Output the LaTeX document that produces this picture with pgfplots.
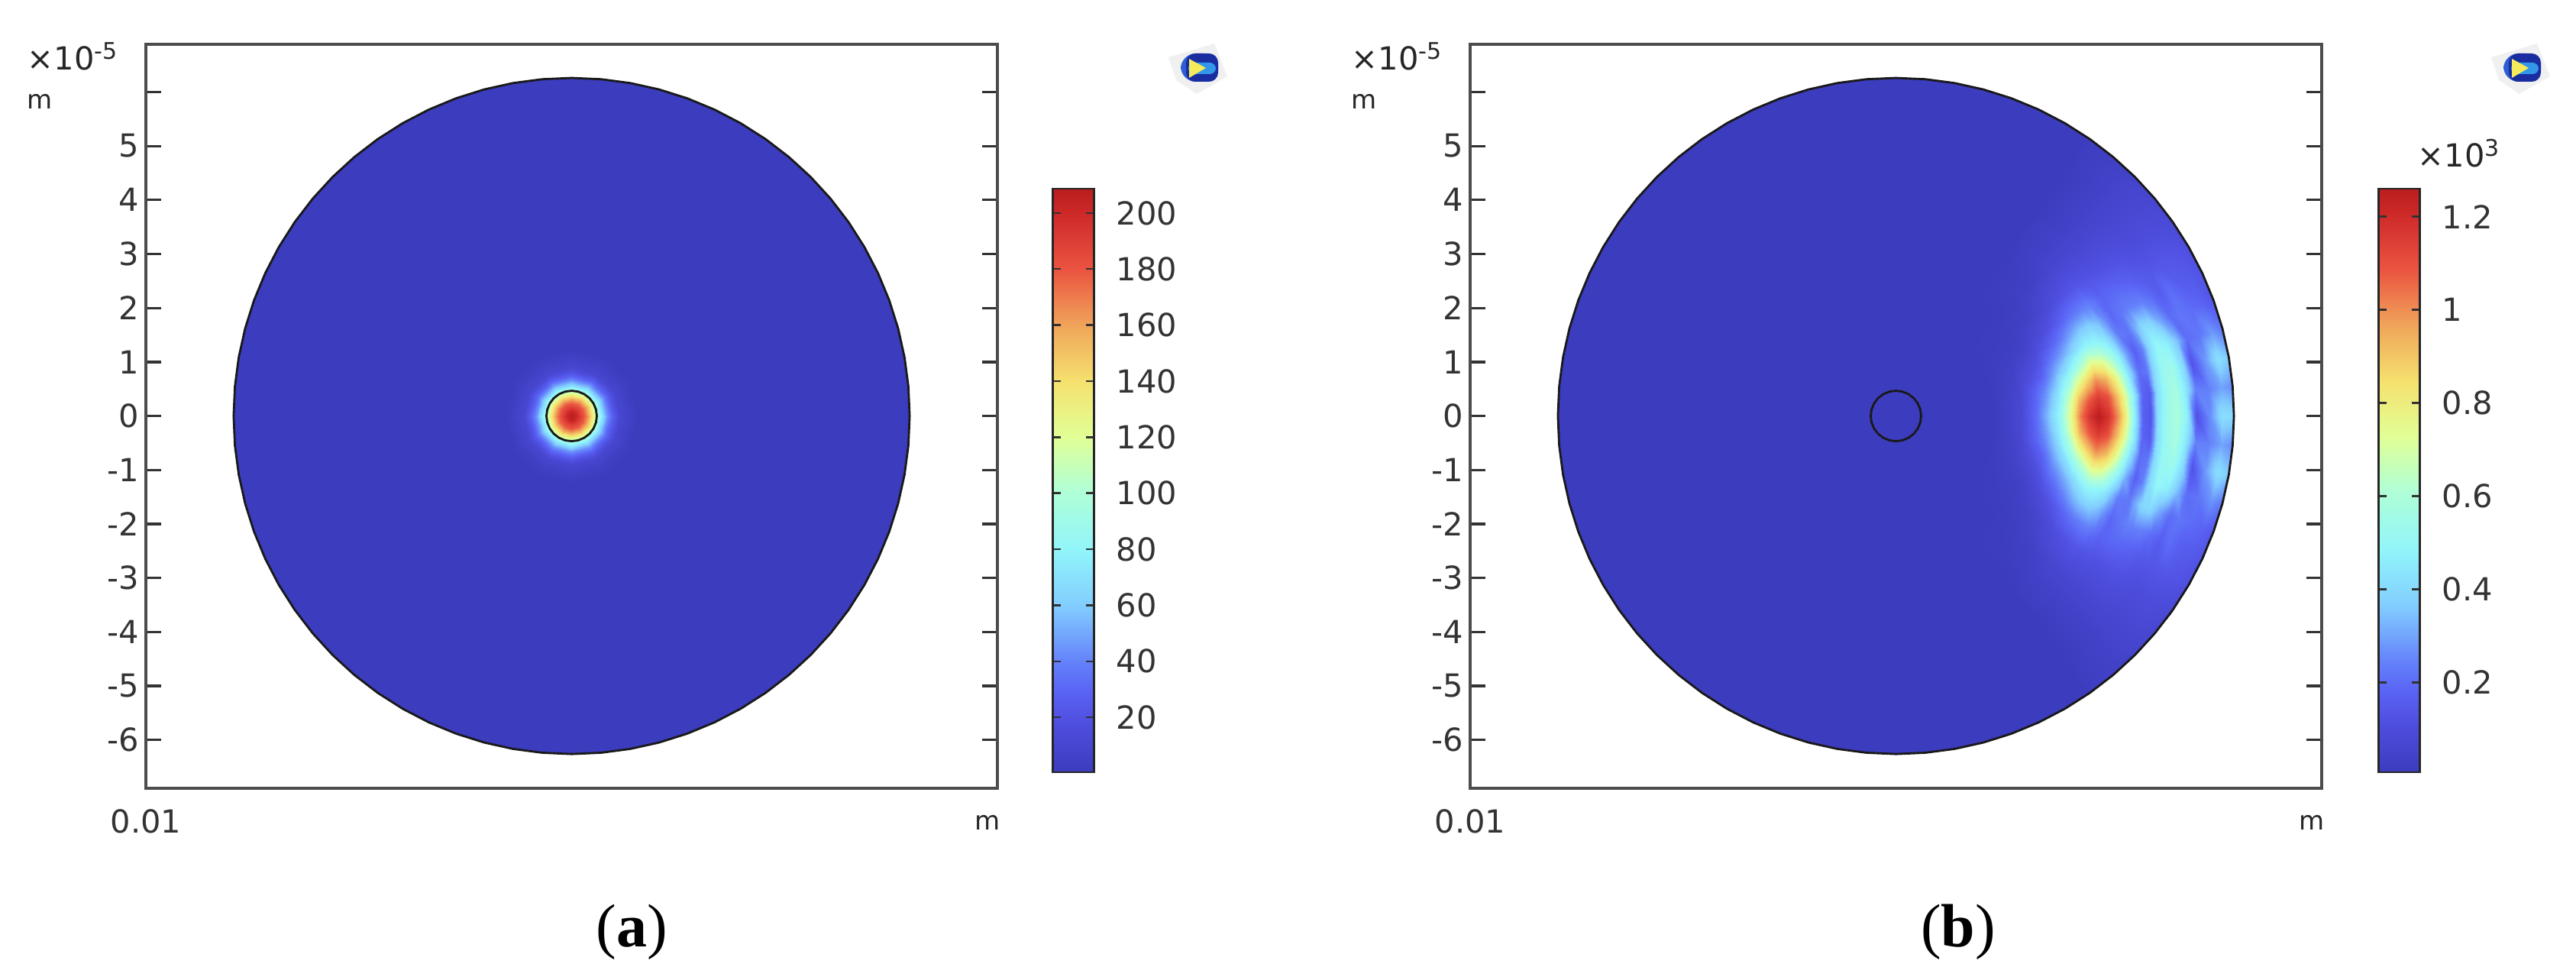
\documentclass[border=0pt]{standalone}
\usepackage{pgfplots}
\usepackage{pgfplotstable}
\pgfplotsset{compat=1.18}
\usepackage{fontspec}
\setmainfont{DejaVu Sans}
\newfontfamily\capfont{Liberation Serif}
\definecolor{basecol}{RGB}{60,60,190}
\definecolor{frame}{gray}{0.3}
\pgfplotsset{
 colormap={comsol}{rgb255(0)=(60,60,190); rgb255(9)=(80,80,225); rgb255(14)=(90,100,245); rgb255(19)=(100,130,250); rgb255(28.5)=(130,205,255); rgb255(38)=(145,245,250); rgb255(48)=(175,255,215); rgb255(57.5)=(225,255,150); rgb255(67)=(245,225,110); rgb255(76.5)=(240,165,90); rgb255(86)=(235,85,65); rgb255(96)=(205,40,40); rgb255(100)=(185,30,30)},
 panel/.style={
  scale only axis, width=278.75pt, height=243.5pt,
  xmin=-7.885, xmax=7.885, ymin=-6.894, ymax=6.883,
  axis line style={frame, line width=0.8pt},
  ytick={-6,-5,-4,-3,-2,-1,0,1,2,3,4,5,6},
  yticklabels={-6,-5,-4,-3,-2,-1,0,1,2,3,4,5,{}},
  ytick pos=both, yticklabel pos=left, tick align=inside,
  major tick length=5pt,
  y tick style={black!80, line width=0.8pt},
  xtick={-7.885}, xticklabels={0.01},
  x tick style={draw=none},
  xticklabel style={yshift=-3.5pt},
  ticklabel style={font=\fontsize{10.4}{13}\selectfont, text=black!80},
  yticklabel style={xshift=1.2pt},
  colormap name=comsol,
  colorbar,
 },
 barst/.style={
  at={(parent axis.south east)}, anchor=south west, yshift=5.25pt,
  width=13.6pt, height=191pt,
  tick align=inside, ytick pos=both, yticklabel pos=right,
  major tick length=2.7pt,
  axis line style={black!85, line width=0.7pt},
  y tick style={black!80, line width=0.6pt},
  yticklabel style={font=\fontsize{10.4}{13}\selectfont, text=black!80, xshift=3.8pt},
 },
 disk/.style={fill=basecol, draw=none, forget plot},
 ring/.style={draw=black!90, line width=0.7pt, no markers, forget plot},
 field/.style={surf, shader=interp, point meta=explicit, draw=none, forget plot},
 /pgfplots/table/polar in/.style={/pgfplots/table/x expr=\thisrow{r}*cos(\thisrow{t}), /pgfplots/table/y expr=\thisrow{r}*sin(\thisrow{t})},
}
\pgfplotstableread[row sep=\\]{r t\\6.26 0\\6.26 5\\6.26 10\\6.26 15\\6.26 20\\6.26 25\\6.26 30\\6.26 35\\6.26 40\\6.26 45\\6.26 50\\6.26 55\\6.26 60\\6.26 65\\6.26 70\\6.26 75\\6.26 80\\6.26 85\\6.26 90\\6.26 95\\6.26 100\\6.26 105\\6.26 110\\6.26 115\\6.26 120\\6.26 125\\6.26 130\\6.26 135\\6.26 140\\6.26 145\\6.26 150\\6.26 155\\6.26 160\\6.26 165\\6.26 170\\6.26 175\\6.26 180\\6.26 185\\6.26 190\\6.26 195\\6.26 200\\6.26 205\\6.26 210\\6.26 215\\6.26 220\\6.26 225\\6.26 230\\6.26 235\\6.26 240\\6.26 245\\6.26 250\\6.26 255\\6.26 260\\6.26 265\\6.26 270\\6.26 275\\6.26 280\\6.26 285\\6.26 290\\6.26 295\\6.26 300\\6.26 305\\6.26 310\\6.26 315\\6.26 320\\6.26 325\\6.26 330\\6.26 335\\6.26 340\\6.26 345\\6.26 350\\6.26 355\\6.26 360\\}\rimtab
\pgfplotstableread[row sep=\\]{r t\\0.467 0\\0.467 15\\0.467 30\\0.467 45\\0.467 60\\0.467 75\\0.467 90\\0.467 105\\0.467 120\\0.467 135\\0.467 150\\0.467 165\\0.467 180\\0.467 195\\0.467 210\\0.467 225\\0.467 240\\0.467 255\\0.467 270\\0.467 285\\0.467 300\\0.467 315\\0.467 330\\0.467 345\\0.467 360\\}\hubtab
\pgfplotstableread[row sep=\\]{r t v\\
0 0 208\\0 30 208\\0 60 208\\0 90 208\\0 120 208\\0 150 208\\0 180 208\\0 210 208\\0 240 208\\0 270 208\\0 300 208\\0 330 208\\0 360 208\\
0.08 0 203\\0.08 30 203\\0.08 60 203\\0.08 90 203\\0.08 120 203\\0.08 150 203\\0.08 180 203\\0.08 210 203\\0.08 240 203\\0.08 270 203\\0.08 300 203\\0.08 330 203\\0.08 360 203\\
0.16 0 190\\0.16 30 190\\0.16 60 190\\0.16 90 190\\0.16 120 190\\0.16 150 190\\0.16 180 190\\0.16 210 190\\0.16 240 190\\0.16 270 190\\0.16 300 190\\0.16 330 190\\0.16 360 190\\
0.24 0 178\\0.24 30 178\\0.24 60 178\\0.24 90 178\\0.24 120 178\\0.24 150 178\\0.24 180 178\\0.24 210 178\\0.24 240 178\\0.24 270 178\\0.24 300 178\\0.24 330 178\\0.24 360 178\\
0.30 0 162\\0.30 30 162\\0.30 60 162\\0.30 90 162\\0.30 120 162\\0.30 150 162\\0.30 180 162\\0.30 210 162\\0.30 240 162\\0.30 270 162\\0.30 300 162\\0.30 330 162\\0.30 360 162\\
0.35 0 147\\0.35 30 147\\0.35 60 147\\0.35 90 147\\0.35 120 147\\0.35 150 147\\0.35 180 147\\0.35 210 147\\0.35 240 147\\0.35 270 147\\0.35 300 147\\0.35 330 147\\0.35 360 147\\
0.40 0 130\\0.40 30 130\\0.40 60 130\\0.40 90 130\\0.40 120 130\\0.40 150 130\\0.40 180 130\\0.40 210 130\\0.40 240 130\\0.40 270 130\\0.40 300 130\\0.40 330 130\\0.40 360 130\\
0.46 0 108\\0.46 30 108\\0.46 60 108\\0.46 90 108\\0.46 120 108\\0.46 150 108\\0.46 180 108\\0.46 210 108\\0.46 240 108\\0.46 270 108\\0.46 300 108\\0.46 330 108\\0.46 360 108\\
0.52 0 85\\0.52 30 85\\0.52 60 85\\0.52 90 85\\0.52 120 85\\0.52 150 85\\0.52 180 85\\0.52 210 85\\0.52 240 85\\0.52 270 85\\0.52 300 85\\0.52 330 85\\0.52 360 85\\
0.58 0 65\\0.58 30 65\\0.58 60 65\\0.58 90 65\\0.58 120 65\\0.58 150 65\\0.58 180 65\\0.58 210 65\\0.58 240 65\\0.58 270 65\\0.58 300 65\\0.58 330 65\\0.58 360 65\\
0.66 0 45\\0.66 30 45\\0.66 60 45\\0.66 90 45\\0.66 120 45\\0.66 150 45\\0.66 180 45\\0.66 210 45\\0.66 240 45\\0.66 270 45\\0.66 300 45\\0.66 330 45\\0.66 360 45\\
0.75 0 28\\0.75 30 28\\0.75 60 28\\0.75 90 28\\0.75 120 28\\0.75 150 28\\0.75 180 28\\0.75 210 28\\0.75 240 28\\0.75 270 28\\0.75 300 28\\0.75 330 28\\0.75 360 28\\
0.9 0 10\\0.9 30 10\\0.9 60 10\\0.9 90 10\\0.9 120 10\\0.9 150 10\\0.9 180 10\\0.9 210 10\\0.9 240 10\\0.9 270 10\\0.9 300 10\\0.9 330 10\\0.9 360 10\\
1.25 0 0.4\\1.25 30 0.4\\1.25 60 0.4\\1.25 90 0.4\\1.25 120 0.4\\1.25 150 0.4\\1.25 180 0.4\\1.25 210 0.4\\1.25 240 0.4\\1.25 270 0.4\\1.25 300 0.4\\1.25 330 0.4\\1.25 360 0.4\\
}\fieldA
\pgfplotstableread[row sep=\\]{r t v\\
1.8 -55 0.007\\1.8 -44 0.007\\1.8 -36 0.007\\1.8 -30 0.007\\1.8 -25 0.007\\1.8 -20 0.007\\1.8 -15 0.007\\1.8 -10 0.007\\1.8 -5 0.007\\1.8 0 0.007\\1.8 5 0.007\\1.8 10 0.007\\1.8 15 0.007\\1.8 20 0.007\\1.8 25 0.007\\1.8 30 0.007\\1.8 36 0.007\\1.8 44 0.007\\1.8 55 0.007\\
2.3 -55 0.007\\2.3 -44 0.01\\2.3 -36 0.015\\2.3 -30 0.02\\2.3 -25 0.03\\2.3 -20 0.04\\2.3 -15 0.05\\2.3 -10 0.06\\2.3 -5 0.07\\2.3 0 0.07\\2.3 5 0.07\\2.3 10 0.06\\2.3 15 0.05\\2.3 20 0.04\\2.3 25 0.03\\2.3 30 0.02\\2.3 36 0.015\\2.3 44 0.01\\2.3 55 0.007\\
2.6 -55 0.007\\2.6 -44 0.01\\2.6 -36 0.02\\2.6 -30 0.03\\2.6 -25 0.05\\2.6 -20 0.08\\2.6 -15 0.12\\2.6 -10 0.17\\2.6 -5 0.19\\2.6 0 0.20\\2.6 5 0.19\\2.6 10 0.17\\2.6 15 0.12\\2.6 20 0.08\\2.6 25 0.05\\2.6 30 0.03\\2.6 36 0.02\\2.6 44 0.01\\2.6 55 0.007\\
2.8 -55 0.01\\2.8 -44 0.015\\2.8 -36 0.03\\2.8 -30 0.05\\2.8 -25 0.08\\2.8 -20 0.13\\2.8 -15 0.18\\2.8 -10 0.25\\2.8 -5 0.30\\2.8 0 0.33\\2.8 5 0.30\\2.8 10 0.25\\2.8 15 0.18\\2.8 20 0.13\\2.8 25 0.08\\2.8 30 0.05\\2.8 36 0.03\\2.8 44 0.015\\2.8 55 0.01\\
3.03 -55 0.01\\3.03 -44 0.02\\3.03 -36 0.04\\3.03 -30 0.08\\3.03 -25 0.14\\3.03 -20 0.22\\3.03 -15 0.30\\3.03 -10 0.38\\3.03 -5 0.46\\3.03 0 0.50\\3.03 5 0.46\\3.03 10 0.38\\3.03 15 0.30\\3.03 20 0.22\\3.03 25 0.14\\3.03 30 0.08\\3.03 36 0.04\\3.03 44 0.02\\3.03 55 0.01\\
3.26 -55 0.01\\3.26 -44 0.03\\3.26 -36 0.06\\3.26 -30 0.12\\3.26 -25 0.20\\3.26 -20 0.30\\3.26 -15 0.42\\3.26 -10 0.58\\3.26 -5 0.72\\3.26 0 0.78\\3.26 5 0.72\\3.26 10 0.58\\3.26 15 0.42\\3.26 20 0.30\\3.26 25 0.20\\3.26 30 0.12\\3.26 36 0.06\\3.26 44 0.03\\3.26 55 0.01\\
3.41 -55 0.01\\3.41 -44 0.03\\3.41 -36 0.08\\3.41 -30 0.15\\3.41 -25 0.25\\3.41 -20 0.36\\3.41 -15 0.52\\3.41 -10 0.74\\3.41 -5 0.94\\3.41 0 1.03\\3.41 5 0.94\\3.41 10 0.74\\3.41 15 0.52\\3.41 20 0.36\\3.41 25 0.25\\3.41 30 0.15\\3.41 36 0.08\\3.41 44 0.03\\3.41 55 0.01\\
3.58 -55 0.01\\3.58 -44 0.04\\3.58 -36 0.10\\3.58 -30 0.19\\3.58 -25 0.31\\3.58 -20 0.44\\3.58 -15 0.64\\3.58 -10 0.88\\3.58 -5 1.08\\3.58 0 1.18\\3.58 5 1.08\\3.58 10 0.88\\3.58 15 0.64\\3.58 20 0.44\\3.58 25 0.31\\3.58 30 0.19\\3.58 36 0.10\\3.58 44 0.04\\3.58 55 0.01\\
3.76 -55 0.01\\3.76 -44 0.05\\3.76 -36 0.12\\3.76 -30 0.22\\3.76 -25 0.36\\3.76 -20 0.50\\3.76 -15 0.76\\3.76 -10 1.00\\3.76 -5 1.16\\3.76 0 1.26\\3.76 5 1.16\\3.76 10 1.00\\3.76 15 0.76\\3.76 20 0.50\\3.76 25 0.36\\3.76 30 0.22\\3.76 36 0.12\\3.76 44 0.05\\3.76 55 0.01\\
3.94 -55 0.015\\3.94 -44 0.06\\3.94 -36 0.13\\3.94 -30 0.24\\3.94 -25 0.38\\3.94 -20 0.50\\3.94 -15 0.72\\3.94 -10 0.94\\3.94 -5 1.10\\3.94 0 1.18\\3.94 5 1.10\\3.94 10 0.94\\3.94 15 0.72\\3.94 20 0.50\\3.94 25 0.38\\3.94 30 0.24\\3.94 36 0.13\\3.94 44 0.06\\3.94 55 0.015\\
4.11 -55 0.015\\4.11 -44 0.06\\4.11 -36 0.14\\4.11 -30 0.24\\4.11 -25 0.34\\4.11 -20 0.44\\4.11 -15 0.60\\4.11 -10 0.78\\4.11 -5 0.92\\4.11 0 1.00\\4.11 5 0.92\\4.11 10 0.78\\4.11 15 0.60\\4.11 20 0.44\\4.11 25 0.34\\4.11 30 0.24\\4.11 36 0.14\\4.11 44 0.06\\4.11 55 0.015\\
4.25 -55 0.015\\4.25 -44 0.06\\4.25 -36 0.13\\4.25 -30 0.21\\4.25 -25 0.26\\4.25 -20 0.34\\4.25 -15 0.48\\4.25 -10 0.62\\4.25 -5 0.74\\4.25 0 0.80\\4.25 5 0.74\\4.25 10 0.62\\4.25 15 0.48\\4.25 20 0.34\\4.25 25 0.26\\4.25 30 0.21\\4.25 36 0.13\\4.25 44 0.06\\4.25 55 0.015\\
4.39 -55 0.015\\4.39 -44 0.06\\4.39 -36 0.13\\4.39 -30 0.18\\4.39 -25 0.19\\4.39 -20 0.23\\4.39 -15 0.32\\4.39 -10 0.42\\4.39 -5 0.50\\4.39 0 0.52\\4.39 5 0.50\\4.39 10 0.42\\4.39 15 0.32\\4.39 20 0.23\\4.39 25 0.19\\4.39 30 0.18\\4.39 36 0.13\\4.39 44 0.06\\4.39 55 0.015\\
4.58 -55 0.01\\4.58 -44 0.06\\4.58 -36 0.12\\4.58 -30 0.19\\4.58 -25 0.22\\4.58 -20 0.22\\4.58 -15 0.17\\4.58 -10 0.20\\4.58 -5 0.18\\4.58 0 0.17\\4.58 5 0.18\\4.58 10 0.20\\4.58 15 0.17\\4.58 20 0.22\\4.58 25 0.22\\4.58 30 0.19\\4.58 36 0.12\\4.58 44 0.06\\4.58 55 0.01\\
4.72 -55 0.01\\4.72 -44 0.06\\4.72 -36 0.12\\4.72 -30 0.19\\4.72 -25 0.24\\4.72 -20 0.32\\4.72 -15 0.24\\4.72 -10 0.22\\4.72 -5 0.15\\4.72 0 0.14\\4.72 5 0.15\\4.72 10 0.22\\4.72 15 0.24\\4.72 20 0.32\\4.72 25 0.24\\4.72 30 0.19\\4.72 36 0.12\\4.72 44 0.06\\4.72 55 0.01\\
4.85 -55 0.01\\4.85 -44 0.06\\4.85 -36 0.12\\4.85 -30 0.18\\4.85 -25 0.24\\4.85 -20 0.40\\4.85 -15 0.40\\4.85 -10 0.40\\4.85 -5 0.40\\4.85 0 0.42\\4.85 5 0.40\\4.85 10 0.40\\4.85 15 0.40\\4.85 20 0.40\\4.85 25 0.24\\4.85 30 0.18\\4.85 36 0.12\\4.85 44 0.06\\4.85 55 0.01\\
5.0 -55 0.01\\5.0 -44 0.06\\5.0 -36 0.12\\5.0 -30 0.17\\5.0 -25 0.24\\5.0 -20 0.40\\5.0 -15 0.50\\5.0 -10 0.52\\5.0 -5 0.52\\5.0 0 0.52\\5.0 5 0.52\\5.0 10 0.52\\5.0 15 0.50\\5.0 20 0.40\\5.0 25 0.24\\5.0 30 0.17\\5.0 36 0.12\\5.0 44 0.06\\5.0 55 0.01\\
5.2 -55 0.01\\5.2 -44 0.06\\5.2 -36 0.11\\5.2 -30 0.15\\5.2 -25 0.20\\5.2 -20 0.30\\5.2 -15 0.46\\5.2 -10 0.54\\5.2 -5 0.58\\5.2 0 0.60\\5.2 5 0.58\\5.2 10 0.54\\5.2 15 0.46\\5.2 20 0.30\\5.2 25 0.20\\5.2 30 0.15\\5.2 36 0.11\\5.2 44 0.06\\5.2 55 0.01\\
5.39 -55 0.01\\5.39 -44 0.06\\5.39 -36 0.10\\5.39 -30 0.14\\5.39 -25 0.16\\5.39 -20 0.20\\5.39 -15 0.34\\5.39 -10 0.40\\5.39 -5 0.44\\5.39 0 0.46\\5.39 5 0.44\\5.39 10 0.40\\5.39 15 0.34\\5.39 20 0.20\\5.39 25 0.16\\5.39 30 0.14\\5.39 36 0.10\\5.39 44 0.06\\5.39 55 0.01\\
5.57 -55 0.01\\5.57 -44 0.06\\5.57 -36 0.10\\5.57 -30 0.14\\5.57 -25 0.20\\5.57 -20 0.22\\5.57 -15 0.20\\5.57 -10 0.13\\5.57 -5 0.24\\5.57 0 0.12\\5.57 5 0.24\\5.57 10 0.13\\5.57 15 0.20\\5.57 20 0.22\\5.57 25 0.20\\5.57 30 0.14\\5.57 36 0.10\\5.57 44 0.06\\5.57 55 0.01\\
5.81 -55 0.015\\5.81 -44 0.06\\5.81 -36 0.10\\5.81 -30 0.14\\5.81 -25 0.16\\5.81 -20 0.20\\5.81 -15 0.22\\5.81 -10 0.28\\5.81 -5 0.24\\5.81 0 0.26\\5.81 5 0.24\\5.81 10 0.28\\5.81 15 0.22\\5.81 20 0.20\\5.81 25 0.16\\5.81 30 0.14\\5.81 36 0.10\\5.81 44 0.06\\5.81 55 0.015\\
6.05 -55 0.015\\6.05 -44 0.06\\6.05 -36 0.09\\6.05 -30 0.13\\6.05 -25 0.15\\6.05 -20 0.18\\6.05 -15 0.28\\6.05 -10 0.42\\6.05 -5 0.30\\6.05 0 0.42\\6.05 5 0.30\\6.05 10 0.42\\6.05 15 0.28\\6.05 20 0.18\\6.05 25 0.15\\6.05 30 0.13\\6.05 36 0.09\\6.05 44 0.06\\6.05 55 0.015\\
6.26 -55 0.015\\6.26 -44 0.05\\6.26 -36 0.08\\6.26 -30 0.11\\6.26 -25 0.13\\6.26 -20 0.14\\6.26 -15 0.22\\6.26 -10 0.36\\6.26 -5 0.26\\6.26 0 0.40\\6.26 5 0.26\\6.26 10 0.36\\6.26 15 0.22\\6.26 20 0.14\\6.26 25 0.13\\6.26 30 0.11\\6.26 36 0.08\\6.26 44 0.05\\6.26 55 0.015\\
}\fieldB
\definecolor{icnavy}{RGB}{25,45,160}
\definecolor{icblue}{RGB}{45,95,210}
\definecolor{iccyan}{RGB}{50,150,235}
\definecolor{icyel}{RGB}{245,235,90}
\newcommand{\icon}[1]{\begin{scope}[xshift=#1*0.25pt]
 \fill[black!6] (1530,-75)--(1590,-57)--(1607,-100)--(1567,-123)--(1540,-105)--cycle;
 \fill[rounded corners=5,icblue] (1546,-70) rectangle (1595,-107);
 \fill[rounded corners=3,icnavy] (1553,-70) rectangle (1595,-107);
 \fill[rounded corners=2,iccyan] (1556,-82) rectangle (1592,-97);
 \fill[icyel] (1557,-77)--(1557,-102)--(1579,-89)--cycle;
 \end{scope}}
\newcommand{\annot}[1]{\begin{scope}[xshift=#1*0.25pt]
 \node[anchor=base west,inner sep=0,font=\fontsize{10.4}{13}\selectfont,text=black!85] at (35,-92) {×10\raisebox{3.6pt}{\fontsize{7.5}{8}\selectfont -5}};
 \node[anchor=base west,inner sep=0,font=\fontsize{8.5}{10}\selectfont,text=black!85] at (35,-143) {m};
 \node[anchor=base,inner sep=0,font=\fontsize{8.5}{10}\selectfont,text=black!85] at (1293,-1087) {m};
 \end{scope}}
\begin{document}
\begin{tikzpicture}
\useasboundingbox (0,0) rectangle (843.25pt,320.75pt);
\begin{axis}[panel, at={(47.75pt,62.75pt)}, anchor=south west,
 point meta min=0.4, point meta max=208.7,
 colorbar style={barst, xshift=9.5pt,
  ytick={20,40,60,80,100,120,140,160,180,200},
  yticklabels={20,40,60,80,100,120,140,160,180,200}}]
\addplot[disk] table[polar in] {\rimtab};
\addplot[field, mesh/cols=13, mesh/rows=14] table[polar in, meta=v] {\fieldA};
\addplot[ring] table[polar in] {\rimtab};
\addplot[ring] table[polar in] {\hubtab};
\end{axis}
\begin{axis}[panel, at={(481.25pt,62.75pt)}, anchor=south west,
 point meta min=0.007, point meta max=1.26,
 colorbar style={barst, xshift=10pt,
  ytick={0.2,0.4,0.6,0.8,1,1.2},
  yticklabels={0.2,0.4,0.6,0.8,1,1.2}}]
\addplot[disk] table[polar in] {\rimtab};
\addplot[field, mesh/cols=19, mesh/rows=23] table[polar in, meta=v] {\fieldB};
\addplot[ring] table[polar in] {\rimtab};
\addplot[ring] table[polar in] {\hubtab};
\end{axis}
\begin{scope}[x=0.25pt,y=0.25pt,shift={(0,320.75pt)}]
\icon{0}\icon{1732}
\annot{0}\annot{1734}
\node[anchor=base west,inner sep=0,font=\fontsize{10.4}{13}\selectfont,text=black!85] at (3165,-219) {×10\raisebox{3.6pt}{\fontsize{7.5}{8}\selectfont 3}};
\node[anchor=base,inner sep=0,font=\capfont\fontsize{20}{22}\selectfont] at (827,-1240) {(\textbf{a})};
\node[anchor=base,inner sep=0,font=\capfont\fontsize{20}{22}\selectfont] at (2564,-1240) {(\textbf{b})};
\end{scope}
\end{tikzpicture}
\end{document}
